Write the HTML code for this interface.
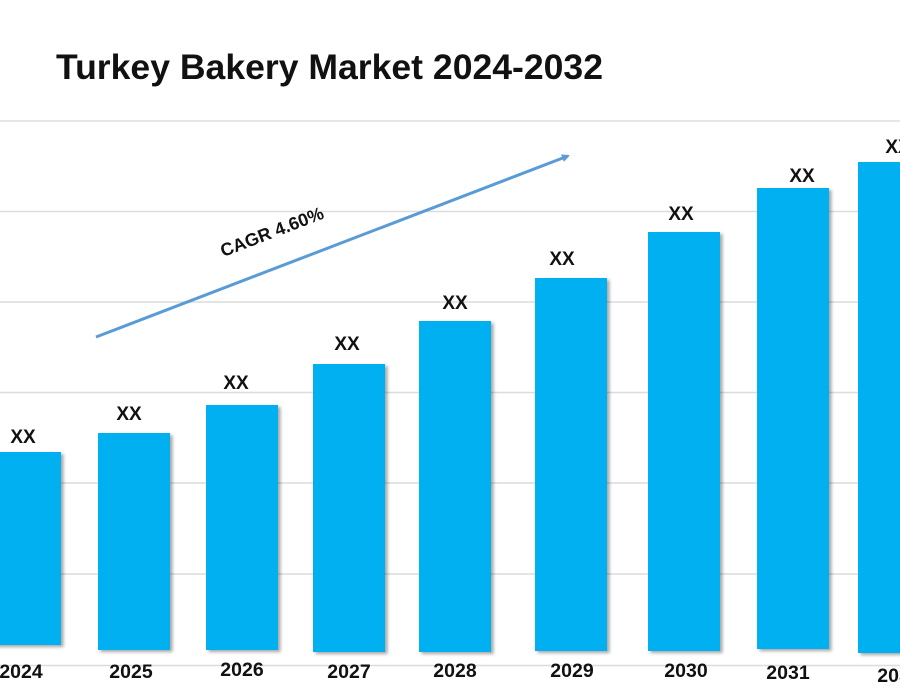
<!DOCTYPE html>
<html>
<head>
<meta charset="utf-8">
<style>
  html, body { margin: 0; padding: 0; background: #ffffff; }
  svg { display: block; }
  text { font-family: "Liberation Sans", Arial, sans-serif; font-weight: bold; fill: #111; }
</style>
</head>
<body>
<svg width="900" height="700" viewBox="0 0 900 700" xmlns="http://www.w3.org/2000/svg">
  <defs>
    <filter id="sh" x="-20%" y="-5%" width="140%" height="115%">
      <feDropShadow dx="2.5" dy="2" stdDeviation="1.6" flood-color="#000" flood-opacity="0.35"/>
    </filter>
    <marker id="ah" markerWidth="8" markerHeight="8" refX="6" refY="4" orient="auto" markerUnits="userSpaceOnUse">
      <path d="M0,0 L8,4 L0,8 Z" fill="#5b9bd5"/>
    </marker>
  </defs>

  <rect x="0" y="0" width="900" height="700" fill="#ffffff"/>

  <!-- Title -->
  <text x="56" y="79" font-size="35" textLength="547" lengthAdjust="spacingAndGlyphs" fill="#111">Turkey Bakery Market 2024-2032</text>

  <!-- Gridlines -->
  <g stroke="#dcdcdc" stroke-width="1.5">
    <line x1="0" y1="121" x2="900" y2="121" stroke="#e6e6e6" stroke-width="2"/>
    <line x1="0" y1="211.5" x2="900" y2="211.5"/>
    <line x1="0" y1="302" x2="900" y2="302"/>
    <line x1="0" y1="392.5" x2="900" y2="392.5"/>
    <line x1="0" y1="483" x2="900" y2="483"/>
    <line x1="0" y1="574" x2="900" y2="574"/>
    <line x1="0" y1="665.5" x2="900" y2="665.5"/>
  </g>

  <!-- Bars -->
  <g fill="#00b0f0" filter="url(#sh)">
    <rect x="-11" y="452" width="72" height="193"/>
    <rect x="98" y="433" width="72" height="217"/>
    <rect x="206" y="405" width="72" height="245"/>
    <rect x="313" y="364" width="72" height="288"/>
    <rect x="419" y="321" width="72" height="331"/>
    <rect x="535" y="278" width="72" height="373"/>
    <rect x="648" y="232" width="72" height="419"/>
    <rect x="757" y="188" width="72" height="461"/>
    <rect x="858" y="162" width="72" height="491"/>
  </g>

  <!-- Value labels -->
  <g font-size="19" text-anchor="middle">
    <text x="23" y="443">XX</text>
    <text x="129" y="420">XX</text>
    <text x="236" y="389">XX</text>
    <text x="347" y="350">XX</text>
    <text x="455" y="309">XX</text>
    <text x="562" y="265">XX</text>
    <text x="681" y="220">XX</text>
    <text x="802" y="182">XX</text>
    <text x="898" y="153">XX</text>
  </g>

  <!-- Year labels -->
  <g font-size="19.5" text-anchor="middle">
    <text x="21" y="678">2024</text>
    <text x="131" y="678">2025</text>
    <text x="242" y="676">2026</text>
    <text x="349" y="678">2027</text>
    <text x="455" y="677">2028</text>
    <text x="572" y="677">2029</text>
    <text x="686" y="677">2030</text>
    <text x="788" y="679">2031</text>
    <text x="899" y="682">2032</text>
  </g>

  <!-- CAGR arrow -->
  <line x1="96" y1="337" x2="568" y2="156" stroke="#5b9bd5" stroke-width="3" marker-end="url(#ah)"/>
  <text x="272" y="238" font-size="18" text-anchor="middle" transform="rotate(-21 272 232)">CAGR 4.60%</text>
</svg>
</body>
</html>
